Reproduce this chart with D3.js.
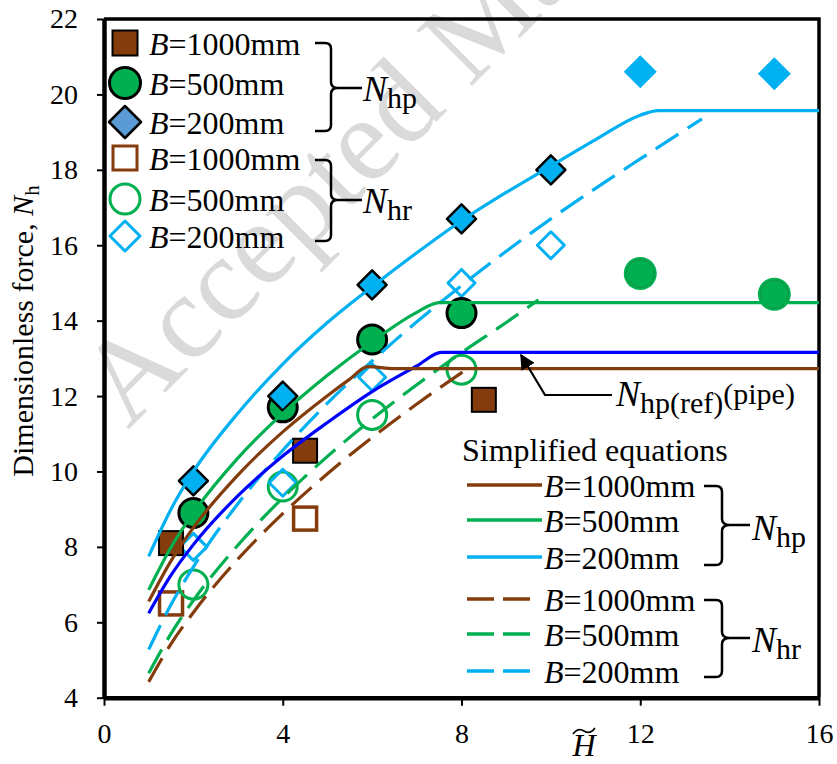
<!DOCTYPE html>
<html>
<head>
<meta charset="utf-8">
<script src="https://cdn.jsdelivr.net/npm/d3@7"></script>
<style>
body { margin: 0; background: #fff; }
svg text { font-family: "Liberation Serif", "Times New Roman", serif; }
</style>
</head>
<body>
<svg width="837" height="764"></svg>
<script>
// measured points, N_hp (filled) and N_hr (hollow)
var hp1000X = [1.5, 4.5, 8.5], hp1000Y = [8.1, 10.55, 11.9];
var hp500X = [2, 4, 6, 8], hp500Y = [8.9, 11.7, 13.5, 14.2];
var hp500LateX = [12, 15], hp500LateY = [15.25, 14.7];
var hp200X = [2, 4, 6, 8, 10], hp200Y = [9.75, 12.0, 14.95, 16.7, 18.0];
var hp200LateX = [12, 15], hp200LateY = [20.6, 20.55];
var hr1000X = [1.5, 4.5], hr1000Y = [6.5, 8.75];
var hr500X = [2, 4, 6, 8], hr500Y = [7.0, 9.6, 11.5, 12.7];
var hr200X = [2, 4, 6, 8, 10], hr200Y = [8.0, 9.7, 12.5, 15.0, 16.0];

// simplified equation curves
var eqHp200X = [1, 1.5, 2, 3, 4, 5, 6, 7, 8, 9, 10, 11, 12, 12.4, 16];
var eqHp200Y = [7.75, 9.0, 10.0, 11.55, 12.85, 13.95, 14.9, 15.8, 16.65, 17.4, 18.1, 18.8, 19.45, 19.57, 19.57];
var eqHr200X = [1, 1.5, 2, 3, 4, 5, 6, 7, 8, 9, 10, 11, 12, 13.38];
var eqHr200Y = [5.28, 6.47, 7.47, 9.15, 10.56, 11.81, 12.93, 13.97, 14.93, 15.84, 16.7, 17.51, 18.29, 19.35];
var eqHp500X = [1, 1.5, 2, 3, 4, 5, 6, 7, 7.5, 16];
var eqHp500Y = [6.86, 7.99, 8.9, 10.36, 11.54, 12.55, 13.44, 14.22, 14.48, 14.48];
var eqHr500X = [1, 1.5, 2, 3, 4, 5, 6, 7, 8, 9, 9.72];
var eqHr500Y = [4.65, 5.7, 6.58, 8.05, 9.3, 10.4, 11.39, 12.3, 13.15, 13.95, 14.55];
var eqHp1000X = [1, 1.5, 2, 3, 4, 5, 5.5, 5.9, 6.5, 16];
var eqHp1000Y = [6.55, 7.63, 8.51, 9.91, 11.05, 12.01, 12.45, 12.78, 12.73, 12.73];
var eqHr1000X = [1, 1.5, 2, 3, 4, 5, 6, 7, 8.1];
var eqHr1000Y = [4.42, 5.43, 6.26, 7.68, 8.88, 9.94, 10.9, 11.79, 12.7];
var pipeX = [1, 1.5, 2, 3, 4, 5, 6, 7, 7.55, 16];
var pipeY = [6.24, 7.25, 8.06, 9.36, 10.41, 11.3, 12.12, 12.8, 13.16, 13.16];

var xTicks = [0, 4, 8, 12, 16];
var yTicks = [4, 6, 8, 10, 12, 14, 16, 18, 20, 22];
var legendLabels = ["1000", "500", "200"];

var brown = "#843C0C", green = "#00B050", cyan = "#00B0F0", blue = "#0000FF";

var svg = d3.select('svg');
var x = d3.scaleLinear().domain([0, 16]).range([104, 819]);
var y = d3.scaleLinear().domain([4, 22]).range([697.7, 19]);

function zip(a, b) { return a.map(function(v, i) { return [v, b[i]]; }); }

// watermark
svg.append("text")
    .attr("transform", "translate(128,430) rotate(-45)")
    .attr("font-size", 120)
    .attr("fill", "#dadada")
    .text("Accepted Manuscript");

// axes
var xAxis = svg.append("g")
    .attr("transform", "translate(0,697.7)")
    .call(d3.axisBottom(x).tickValues(xTicks).tickSize(8).tickSizeOuter(0).tickPadding(17));
var yAxis = svg.append("g")
    .attr("transform", "translate(104,0)")
    .call(d3.axisLeft(y).tickValues(yTicks).tickSize(7).tickSizeOuter(0).tickPadding(19));
[xAxis, yAxis].forEach(function(g) {
    g.select(".domain").attr("stroke", "#000").attr("stroke-width", 4.5);
    g.selectAll(".tick line").attr("stroke", "#000").attr("stroke-width", 2);
    g.selectAll(".tick text").attr("font-size", 28).attr("fill", "#000")
        .style("font-family", "'Liberation Serif', serif");
});
svg.append("path")
    .attr("d", "M" + x(0) + "," + y(22) + "H" + x(16) + "V" + y(4))
    .attr("fill", "none").attr("stroke", "#000").attr("stroke-width", 3.5);

// markers
function marker(g, shape, cx, cy, s, fill, stroke, sw) {
    if (shape === "square") {
        g.append("rect").attr("x", cx - s / 2).attr("y", cy - s / 2).attr("width", s).attr("height", s)
            .attr("fill", fill).attr("stroke", stroke).attr("stroke-width", sw);
    } else if (shape === "circle") {
        g.append("circle").attr("cx", cx).attr("cy", cy).attr("r", s / 2)
            .attr("fill", fill).attr("stroke", stroke).attr("stroke-width", sw);
    } else {
        var h = s / 2;
        g.append("path").attr("d", "M" + cx + "," + (cy - h) + "L" + (cx + h) + "," + cy + "L" + cx + "," + (cy + h) + "L" + (cx - h) + "," + cy + "Z")
            .attr("fill", fill).attr("stroke", stroke).attr("stroke-width", sw).attr("stroke-linejoin", "round");
    }
}
var pts = svg.append("g");
function plotSet(xs, ys, shape, s, fill, stroke, sw) {
    xs.forEach(function(v, i) { marker(pts, shape, x(v), y(ys[i]), s, fill, stroke, sw); });
}
plotSet(hr1000X, hr1000Y, "square", 23, "#fff", brown, 3.5);
plotSet(hr500X, hr500Y, "circle", 29, "none", green, 3);
plotSet(hr200X, hr200Y, "diamond", 27, "none", cyan, 3);
plotSet(hp1000X, hp1000Y, "square", 24, brown, "#000", 2);
plotSet(hp500X, hp500Y, "circle", 29, green, "#000", 3);
plotSet(hp200X, hp200Y, "diamond", 29, cyan, "#000", 2.5);
plotSet(hp500LateX, hp500LateY, "circle", 33, green, "none", 0);
plotSet(hp500LateX, hp500LateY, "circle", 28, "none", "#1a8a40", 0.8);
plotSet(hp200LateX, hp200LateY, "diamond", 33, cyan, "none", 0);

// curves
var line = d3.line().x(function(d) { return x(d[0]); }).y(function(d) { return y(d[1]); }).curve(d3.curveMonotoneX);
var curves = [
    [eqHr1000X, eqHr1000Y, brown, true],
    [eqHr500X, eqHr500Y, green, true],
    [eqHr200X, eqHr200Y, cyan, true],
    [pipeX, pipeY, blue, false],
    [eqHp1000X, eqHp1000Y, brown, false],
    [eqHp500X, eqHp500Y, green, false],
    [eqHp200X, eqHp200Y, cyan, false]
];
curves.forEach(function(c) {
    svg.append("path").datum(zip(c[0], c[1])).attr("d", line)
        .attr("fill", "none").attr("stroke", c[2]).attr("stroke-width", 3.2)
        .attr("stroke-dasharray", c[3] ? "27,11" : null);
});

// label helpers
function bLabel(g, tx, ty, num) {
    var t = g.append("text").attr("x", tx).attr("y", ty).attr("font-size", 32).attr("fill", "#000");
    t.append("tspan").attr("font-style", "italic").text("B");
    t.append("tspan").text("=" + num + "mm");
}
function nLabel(g, tx, ty, sub) {
    var t = g.append("text").attr("x", tx).attr("y", ty).attr("font-size", 36).attr("fill", "#000");
    t.append("tspan").attr("font-style", "italic").text("N");
    t.append("tspan").attr("font-size", 30).attr("dy", 7).text(sub);
}
function brace(g, x0, top, bottom, mid, xv, xt, xe) {
    g.append("path")
        .attr("d", "M" + x0 + "," + top + "H" + (xv - 6) + "Q" + xv + "," + top + " " + xv + "," + (top + 6) +
            "V" + (mid - 6) + "Q" + xv + "," + mid + " " + xt + "," + mid +
            "Q" + xv + "," + mid + " " + xv + "," + (mid + 6) +
            "V" + (bottom - 6) + "Q" + xv + "," + bottom + " " + (xv - 6) + "," + bottom + "H" + x0 +
            "M" + xt + "," + mid + "H" + xe)
        .attr("fill", "none").attr("stroke", "#000").attr("stroke-width", 2.5);
}

// legend 1 (measured points)
var lg1 = svg.append("g");
var l1Shapes = [
    ["square", 25, brown, "#000", 2], ["circle", 31, green, "#000", 3], ["diamond", 32, "#5B9BD5", "#000", 2.5],
    ["square", 24, "#fff", brown, 3], ["circle", 30, "none", green, 3], ["diamond", 30, "none", cyan, 3]
];
var l1Rows = [43, 83, 122, 158, 199, 236];
l1Shapes.forEach(function(s, i) {
    marker(lg1, s[0], 125, l1Rows[i], s[1], s[2], s[3], s[4]);
    bLabel(lg1, 149, l1Rows[i] + 12, legendLabels[i % 3]);
});
brace(lg1, 315, 43, 131, 88, 331, 338, 362);
brace(lg1, 315, 160, 241, 200, 331, 338, 362);
nLabel(lg1, 363, 101, "hp");
nLabel(lg1, 363, 213, "hr");

// legend 2 (simplified equations)
var lg2 = svg.append("g");
lg2.append("text").attr("x", 462).attr("y", 461).attr("font-size", 32).text("Simplified equations");
var l2Rows = [485, 520, 557, 599, 634, 671];
var l2Colors = [brown, green, cyan, brown, green, cyan];
l2Rows.forEach(function(ry, i) {
    var dashed = i > 2;
    lg2.append("line").attr("x1", 467).attr("x2", dashed ? 530 : 542).attr("y1", ry).attr("y2", ry)
        .attr("stroke", l2Colors[i]).attr("stroke-width", 3.5)
        .attr("stroke-dasharray", dashed ? "27,9" : null);
    bLabel(lg2, 544, ry + 12, legendLabels[i % 3]);
});
brace(lg2, 704, 486, 565, 525, 722, 730, 750);
brace(lg2, 704, 600, 677, 638, 722, 730, 750);
nLabel(lg2, 752, 540, "hp");
nLabel(lg2, 752, 652, "hr");

// pipe annotation
svg.append("defs").append("marker").attr("id", "arr").attr("viewBox", "0 0 10 10")
    .attr("refX", 9).attr("refY", 5).attr("markerWidth", 7).attr("markerHeight", 7)
    .attr("markerUnits", "strokeWidth").attr("orient", "auto")
    .append("path").attr("d", "M0,0L10,5L0,10Z").attr("fill", "#000");
svg.append("path").attr("d", "M612,395H545L521,355")
    .attr("fill", "none").attr("stroke", "#000").attr("stroke-width", 2.2).attr("marker-end", "url(#arr)");
var pipeTxt = svg.append("text").attr("x", 616).attr("y", 406).attr("font-size", 36);
pipeTxt.append("tspan").attr("font-style", "italic").text("N");
pipeTxt.append("tspan").attr("font-size", 30).attr("dy", 7).text("hp(ref)");
pipeTxt.append("tspan").attr("font-size", 30).attr("dy", -9).text("(pipe)");

// axis titles
var yt = svg.append("text").attr("transform", "translate(33,331) rotate(-90)")
    .attr("text-anchor", "middle").attr("font-size", 30);
yt.append("tspan").text("Dimensionless force, ");
yt.append("tspan").attr("font-style", "italic").text("N");
yt.append("tspan").attr("font-size", 21).attr("dy", 6).text("h");

svg.append("text").attr("x", 584).attr("y", 756).attr("text-anchor", "middle")
    .attr("font-size", 32).attr("font-style", "italic").text("H");
svg.append("path").attr("d", "M573,734 Q578,727 584,731 T595,728")
    .attr("fill", "none").attr("stroke", "#000").attr("stroke-width", 1.6);
</script>
</body>
</html>
